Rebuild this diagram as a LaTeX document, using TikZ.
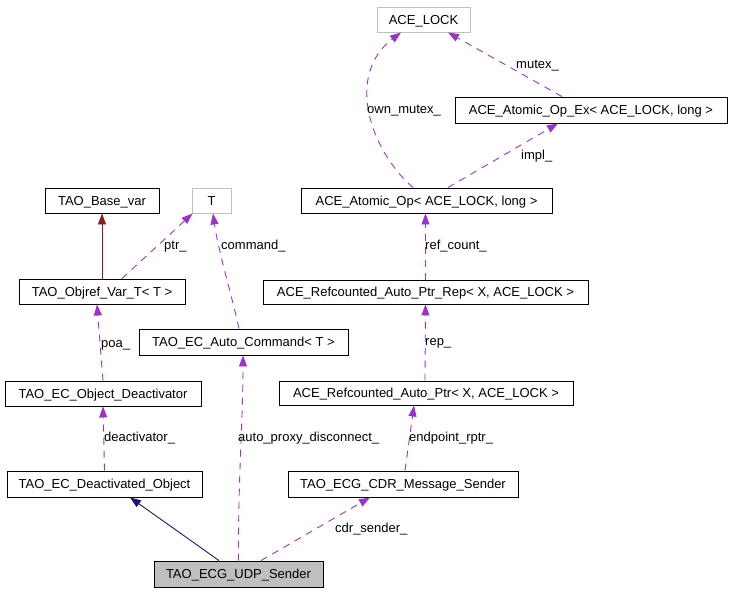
\documentclass[tikz,border=0pt]{standalone}
\usepackage{fontspec}
\setmainfont{Liberation Sans}
\usetikzlibrary{arrows.meta}
\definecolor{edgepurple}{HTML}{9A32CD}
\definecolor{edgered}{HTML}{8B1A1A}
\definecolor{edgenavy}{HTML}{191970}
\definecolor{boxgray}{HTML}{BFBFBF}
\tikzset{
  cls/.style={draw=black, line width=0.9pt, inner sep=0pt, text height=9.3pt, text depth=0pt, font=\fontsize{13}{15}\selectfont},
  tmpl/.style={cls, draw=boxgray},
  usage/.style={draw=edgepurple, line width=0.9pt, dash pattern=on 7pt off 6pt, -{Triangle[length=11pt,width=8pt]}, edgepurple},
  inherit/.style={line width=0.9pt, -{Triangle[length=11pt,width=8pt]}},
  lbl/.style={anchor=west, inner sep=0pt, text height=9.3pt, text depth=0pt, font=\fontsize{13}{15}\selectfont}
}
\begin{document}
\begin{tikzpicture}[x=1pt,y=-1pt]
\useasboundingbox (0,0) rectangle (732,592);
% nodes
\node[tmpl, minimum width=93pt, minimum height=25pt] (lock) at (423.5,19.5) {ACE\_LOCK};
\node[cls, minimum width=272pt, minimum height=26pt] (opex) at (591,110) {ACE\_Atomic\_Op\_Ex< ACE\_LOCK, long >};
\node[cls, minimum width=251pt, minimum height=25pt] (atomicop) at (426.5,200.5) {ACE\_Atomic\_Op< ACE\_LOCK, long >};
\node[cls, minimum width=114pt, minimum height=25pt] (basevar) at (102,200.5) {TAO\_Base\_var};
\node[tmpl, minimum width=39pt, minimum height=25pt] (T) at (211.5,200.5) {T};
\node[cls, minimum width=166pt, minimum height=25pt] (objref) at (102,291.5) {TAO\_Objref\_Var\_T< T >};
\node[cls, minimum width=325pt, minimum height=24pt] (rep) at (425.5,292) {ACE\_Refcounted\_Auto\_Ptr\_Rep< X, ACE\_LOCK >};
\node[cls, minimum width=209pt, minimum height=26pt] (autocmd) at (243.5,342) {TAO\_EC\_Auto\_Command< T >};
\node[cls, minimum width=196pt, minimum height=25pt] (deactivator) at (103,393.5) {TAO\_EC\_Object\_Deactivator};
\node[cls, minimum width=294pt, minimum height=24pt] (autoptr) at (426,393) {ACE\_Refcounted\_Auto\_Ptr< X, ACE\_LOCK >};
\node[cls, minimum width=195pt, minimum height=26pt] (deactobj) at (104.5,484) {TAO\_EC\_Deactivated\_Object};
\node[cls, minimum width=230pt, minimum height=26pt] (cdr) at (403,484) {TAO\_ECG\_CDR\_Message\_Sender};
\node[cls, fill=boxgray, minimum width=169pt, minimum height=26pt] (udp) at (238.5,574) {TAO\_ECG\_UDP\_Sender};
% edges
\draw[inherit, edgered] (objref.north) -- (basevar.south);
\draw[usage] ([xshift=20pt]objref.north) -- ([xshift=1pt]T.south west);
\draw[usage] ([xshift=-4.5pt]autocmd.north) .. controls (233,300) and (218,250) .. ([xshift=1.5pt]T.south);
\draw[usage] (deactivator.north) -- ([xshift=-5pt]objref.south);
\draw[usage] (deactobj.north) -- (deactivator.south);
\draw[inherit, edgenavy] ([xshift=-19.5pt]udp.north) -- ([xshift=25.5pt]deactobj.south);
\draw[usage] (udp.north) .. controls (238,480) and (243,420) .. ([xshift=-0.5pt]autocmd.south);
\draw[usage] ([xshift=22.5pt]udp.north) -- ([xshift=-33pt]cdr.south);
\draw[usage] ([xshift=2pt]cdr.north) -- ([xshift=-12pt]autoptr.south);
\draw[usage] ([xshift=-1pt]autoptr.north) -- (rep.south);
\draw[usage] (rep.north) -- ([xshift=-1pt]atomicop.south);
\draw[usage] ([xshift=21.5pt]atomicop.north) -- ([xshift=-33pt]opex.south);
\draw[usage] ([xshift=-13.5pt]atomicop.north) .. controls (370,150) and (345,75) .. ([xshift=-22.5pt]lock.south);
\draw[usage] ([xshift=-29pt]opex.north) -- ([xshift=24.5pt]lock.south);
% labels
\node[lbl] (l1) at (164,245) {ptr\_};
\node[lbl] (l2) at (221,245) {command\_};
\node[lbl] (l3) at (101,343) {poa\_};
\node[lbl] (l4) at (104,437) {deactivator\_};
\node[lbl] (l5) at (238,437) {auto\_proxy\_disconnect\_};
\node[lbl] (l6) at (409,437) {endpoint\_rptr\_};
\node[lbl] (l7) at (335,528) {cdr\_sender\_};
\node[lbl] (l8) at (425,341) {rep\_};
\node[lbl] (l9) at (425,245) {ref\_count\_};
\node[lbl] (l10) at (521,155) {impl\_};
\node[lbl] (l11) at (367,109) {own\_mutex\_};
\node[lbl] (l12) at (516,64) {mutex\_};
\end{tikzpicture}
\end{document}
